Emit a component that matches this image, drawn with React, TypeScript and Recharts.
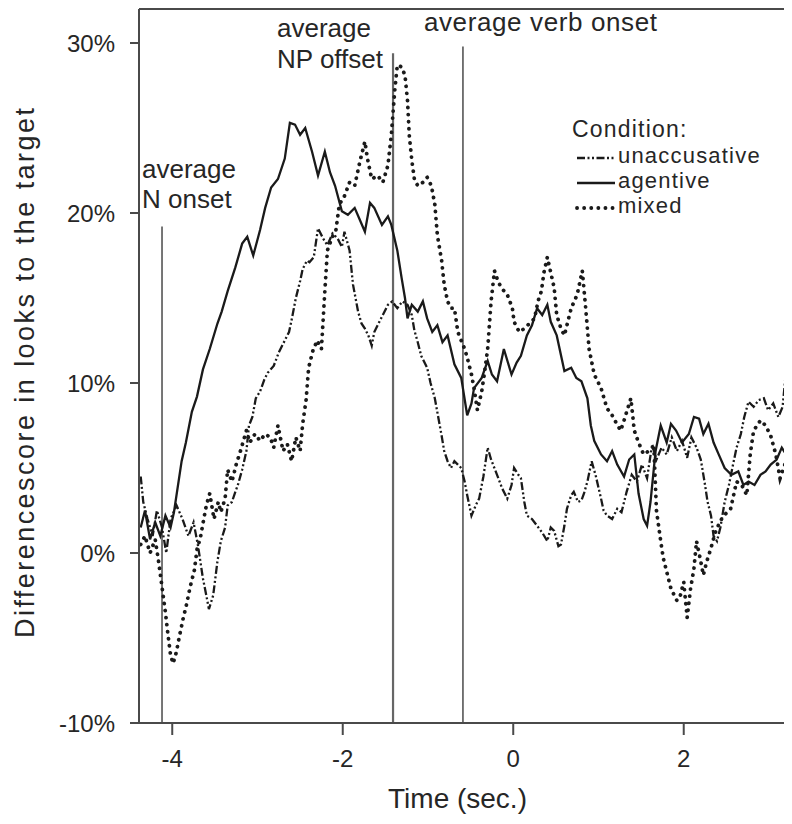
import { LineChart, Line, XAxis, YAxis, ReferenceLine, Legend, Label } from 'recharts';

const agentiveTime = [
  -4.37, -4.32, -4.26, -4.2, -4.14, -4.08, -4.02, -3.98, -3.89, -3.84, -3.77, -3.71, -3.64, -3.56, -3.47, -3.42,
  -3.35, -3.26, -3.18, -3.12, -3.05, -2.97, -2.91, -2.84, -2.76, -2.68, -2.62, -2.56, -2.5, -2.44, -2.36, -2.29,
  -2.21, -2.15, -2.09, -2.01, -1.94, -1.86, -1.8, -1.74, -1.68, -1.63, -1.54, -1.47, -1.43, -1.36, -1.31, -1.27,
  -1.24, -1.19, -1.12, -1.06, -1.01, -0.95, -0.89, -0.83, -0.77, -0.69, -0.61, -0.54, -0.49, -0.46, -0.37, -0.3,
  -0.25, -0.19, -0.11, -0.02, 0.04, 0.09, 0.16, 0.22, 0.28, 0.34, 0.4, 0.44, 0.51, 0.6, 0.68, 0.74, 0.8, 0.87,
  0.91, 0.95, 1.03, 1.1, 1.16, 1.22, 1.3, 1.36, 1.42, 1.47, 1.53, 1.57, 1.61, 1.67, 1.73, 1.8, 1.85, 1.91, 1.98,
  2.06, 2.12, 2.18, 2.23, 2.29, 2.35, 2.41, 2.48, 2.56, 2.64, 2.7, 2.76, 2.83, 2.9, 2.96, 3.02, 3.09, 3.15, 3.2,
];
const agentiveValue = [
  1.5, 2.5, 0.8, 1.8, 1.0, 2.2, 1.5, 2.4, 5.4, 6.5, 8.3, 9.2, 10.8, 12.0, 13.5, 14.2,
  15.4, 16.8, 18.2, 18.6, 17.5, 19.0, 20.3, 21.5, 22.0, 23.2, 25.3, 25.2, 24.6, 25.0, 23.6, 22.2,
  23.6, 22.4, 21.6, 20.1, 19.9, 20.3, 19.6, 18.9, 20.6, 20.3, 19.3, 19.8, 19.3, 17.8, 16.2, 15.0,
  13.8, 14.6, 14.2, 14.8, 13.8, 13.0, 13.4, 12.4, 12.8, 11.1, 10.3, 8.1, 8.8, 9.7, 10.3, 11.3,
  10.5, 10.1, 12.0, 10.5, 11.2, 11.6, 12.8, 13.4, 14.4, 14.0, 14.6, 13.6, 12.8, 10.7, 10.9, 10.3, 10.1, 9.1,
  7.5, 6.6, 5.8, 5.4, 6.0, 5.2, 4.5, 5.5, 5.8, 3.5, 2.0, 1.6, 3.0, 6.0, 7.5, 6.5, 7.6, 7.2, 6.5,
  7.0, 8.0, 7.9, 7.0, 7.6, 6.5, 5.8, 5.0, 4.6, 4.8, 4.0, 4.2, 4.0, 4.6, 4.8, 5.2, 5.5, 6.2, 5.8,
];

const unaccusativeTime = [
  -4.37, -4.34, -4.29, -4.23, -4.18, -4.12, -4.07, -4.02, -3.95, -3.88, -3.81, -3.75, -3.7, -3.64, -3.6, -3.57,
  -3.52, -3.47, -3.43, -3.38, -3.35, -3.3, -3.26, -3.23, -3.18, -3.13, -3.1, -3.06, -3.02, -2.97, -2.92, -2.88,
  -2.81, -2.75, -2.68, -2.63, -2.6, -2.55, -2.5, -2.47, -2.42, -2.39, -2.34, -2.29, -2.23, -2.18, -2.12, -2.06,
  -2.01, -1.98, -1.92, -1.88, -1.82, -1.78, -1.74, -1.7, -1.66, -1.63, -1.59, -1.53, -1.47, -1.42, -1.36, -1.3,
  -1.24, -1.19, -1.16, -1.12, -1.08, -1.01, -0.97, -0.92, -0.88, -0.84, -0.81, -0.77, -0.73, -0.69, -0.65, -0.61,
  -0.57, -0.54, -0.49, -0.44, -0.4, -0.35, -0.3, -0.26, -0.19, -0.13, -0.07, -0.02, 0.01, 0.06, 0.09, 0.13, 0.16,
  0.22, 0.28, 0.34, 0.4, 0.44, 0.48, 0.53, 0.56, 0.6, 0.63, 0.68, 0.71, 0.76, 0.8, 0.83, 0.87, 0.92, 0.97, 1.03,
  1.06, 1.1, 1.16, 1.22, 1.27, 1.33, 1.39, 1.45, 1.51, 1.57, 1.63, 1.68, 1.74, 1.8, 1.86, 1.92, 1.98, 2.04, 2.09,
  2.15, 2.2, 2.25, 2.28, 2.32, 2.35, 2.39, 2.43, 2.48, 2.53, 2.57, 2.62, 2.67, 2.71, 2.76, 2.82, 2.88, 2.94, 2.99,
  3.05, 3.11, 3.16, 3.19, 3.23,
];
const unaccusativeValue = [
  4.5, 3.0, 2.0, 1.0, 2.5, 1.5, 0.0, 2.0, 2.8, 2.0, 1.0, 1.8, 0.5, -1.5, -2.5, -3.3,
  -2.5, -0.5, 0.7, 1.5, 2.8, 3.0, 3.6, 4.0, 4.9, 6.0, 7.5, 8.0, 9.1, 9.5, 10.2, 10.6,
  11.0, 11.8, 12.5, 13.0, 13.7, 15.0, 16.0, 16.7, 17.2, 17.1, 17.4, 19.1, 18.5, 18.1, 18.8, 18.5,
  18.0, 18.9, 17.8, 15.8, 14.2, 13.5, 13.2, 12.8, 12.2, 13.0, 13.4, 14.0, 14.6, 14.8, 14.4, 14.8,
  14.6, 14.0, 13.1, 12.4, 11.6, 10.9, 10.0, 9.1, 8.0, 6.9, 6.0, 5.4, 5.0, 5.4, 5.2, 5.0,
  4.2, 3.4, 2.2, 2.8, 3.2, 4.5, 6.2, 5.5, 4.6, 3.8, 3.2, 4.0, 5.0, 4.6, 4.4, 3.0, 2.2,
  2.0, 1.6, 1.2, 0.7, 1.5, 1.3, 0.4, 0.5, 1.6, 2.6, 3.4, 3.6, 3.0, 3.1, 3.5, 4.2, 5.4, 4.5, 3.2,
  2.5, 2.2, 2.0, 2.6, 2.4, 3.6, 4.6, 4.2, 5.2, 4.4, 6.4, 5.5, 6.2, 5.8, 6.8, 6.0, 6.6, 5.6, 6.8,
  6.2, 5.5, 4.0, 3.0, 2.2, 1.0, 0.7, 1.5, 3.0, 4.0, 5.0, 6.2, 7.0, 8.0, 8.9, 8.6, 9.0, 9.1, 8.4,
  8.8, 8.0, 8.6, 10.2, 9.5,
];

const mixedTime = [
  -4.37, -4.32, -4.26, -4.2, -4.16, -4.12, -4.08, -4.05, -4.02, -3.99, -3.95, -3.92, -3.87, -3.84, -3.79, -3.74,
  -3.71, -3.67, -3.63, -3.6, -3.56, -3.51, -3.46, -3.43, -3.38, -3.35, -3.3, -3.25, -3.2, -3.13, -3.09, -3.03,
  -2.97, -2.91, -2.85, -2.81, -2.76, -2.7, -2.65, -2.6, -2.55, -2.5, -2.47, -2.43, -2.4, -2.35, -2.3, -2.25,
  -2.21, -2.18, -2.13, -2.08, -2.04, -1.98, -1.92, -1.86, -1.8, -1.74, -1.71, -1.66, -1.59, -1.53, -1.47, -1.43,
  -1.39, -1.36, -1.31, -1.27, -1.24, -1.22, -1.19, -1.16, -1.12, -1.06, -1.01, -0.96, -0.92, -0.89, -0.84, -0.81,
  -0.77, -0.73, -0.69, -0.65, -0.61, -0.57, -0.54, -0.49, -0.46, -0.42, -0.37, -0.34, -0.3, -0.26, -0.22, -0.18,
  -0.14, -0.07, -0.01, 0.01, 0.07, 0.13, 0.19, 0.25, 0.29, 0.33, 0.36, 0.4, 0.44, 0.48, 0.51, 0.56, 0.6, 0.64,
  0.68, 0.75, 0.81, 0.85, 0.89, 0.95, 1.03, 1.1, 1.15, 1.18, 1.26, 1.3, 1.38, 1.42, 1.47, 1.53, 1.59, 1.65, 1.68,
  1.73, 1.76, 1.8, 1.85, 1.92, 1.96, 2.0, 2.04, 2.08, 2.12, 2.15, 2.2, 2.23, 2.27, 2.32, 2.37, 2.43, 2.49, 2.55,
  2.62, 2.68, 2.74, 2.78, 2.82, 2.9, 2.96, 3.02, 3.08, 3.13, 3.2,
];
const mixedValue = [
  0.5, 1.0, 0.0, 0.8, -0.5, -2.0, -3.5, -4.8, -6.0, -6.5, -5.8, -5.0, -3.8, -3.2, -2.0, -1.0,
  0.2, 0.9, 2.0, 2.8, 3.5, 2.0, 3.0, 2.4, 3.2, 4.9, 4.2, 5.2, 6.0, 7.2, 6.5, 7.0,
  6.6, 7.0, 6.8, 6.2, 7.5, 6.0, 6.4, 5.4, 6.8, 6.0, 7.6, 9.0, 10.9, 11.9, 12.5, 12.0,
  15.4, 17.8, 18.5, 19.0, 20.5, 21.0, 21.8, 21.6, 23.0, 24.2, 23.2, 22.0, 22.2, 21.8, 22.8, 24.6,
  27.2, 28.7, 28.6, 28.1, 26.6, 24.6, 23.1, 22.0, 21.6, 21.8, 22.1, 21.6, 20.5, 18.7, 17.2, 15.8,
  14.8, 14.4, 14.4, 13.0, 12.5, 12.0, 11.5, 10.5, 9.7, 8.4, 9.5, 10.5, 12.0, 14.8, 16.6, 16.0,
  15.6, 15.2, 14.4, 13.6, 13.0, 13.2, 13.5, 13.8, 14.8, 15.4, 16.5, 17.4, 16.5, 15.6, 14.0, 13.2, 12.8, 13.6,
  14.4, 15.2, 16.6, 14.4, 12.0, 10.5, 9.7, 8.5, 8.2, 7.9, 7.2, 7.8, 9.1, 7.2, 6.5, 5.8, 6.0, 6.2, 2.5,
  0.7, -0.3, -1.1, -2.1, -2.8, -2.5, -1.7, -3.8, -2.1, -0.9, 0.7, -0.5, -1.3, -0.5, 0.3, 1.2, 1.9, 2.3, 2.6,
  4.2, 4.0, 3.4, 5.8, 7.2, 7.8, 7.5, 6.9, 5.8, 4.4, 5.4,
];

const legendTitle = 'Condition:';
const legendNames = ['unaccusative', 'agentive', 'mixed'];
const xTicks = [-4, -2, 0, 2];
const yTicks = [-10, 0, 10, 20, 30];

// time of the three event markers (sec.) and the top of each marker line (%)
const nOnset = -4.12;
const npOffset = -1.41;
const verbOnset = -0.59;
const nOnsetTop = 19.2;
const npOffsetTop = 29.4;
const verbOnsetTop = 29.8;

const FONT = '"Liberation Sans", Arial, Helvetica, sans-serif';
const INK = '#1a1a1a';
const TEXT = '#262626';
const AXIS = '#4a4a4a';

const SERIES_STYLE: Record<string, { dash?: string; width: number; cap: 'butt' | 'round' }> = {
  unaccusative: { dash: '8 2.5 2 2.5 2 2.5', width: 2.3, cap: 'butt' },
  agentive: { width: 2.3, cap: 'butt' },
  mixed: { dash: '0.1 7', width: 3.8, cap: 'round' },
};

const toPoints = (times: number[], values: number[]) => times.map((t, i) => ({ t, v: values[i] }));

const unaccusativeData = toPoints(unaccusativeTime, unaccusativeValue);
const agentiveData = toPoints(agentiveTime, agentiveValue);
const mixedData = toPoints(mixedTime, mixedValue);

const textStyle = { fontFamily: FONT, fontSize: 26, fill: TEXT };
const legendText = { fontFamily: FONT, fontSize: 22, fill: TEXT, letterSpacing: 1.2 };

const renderLegend = () => (
  <svg width={240} height={112} style={{ overflow: 'visible', display: 'block' }}>
    <text x={4} y={24} style={{ ...legendText, fontSize: 23 }}>
      {legendTitle}
    </text>
    {legendNames.map((name, i) => {
      const s = SERIES_STYLE[name];
      return (
        <g key={name}>
          <line
            x1={9}
            x2={47}
            y1={45 + i * 25}
            y2={45 + i * 25}
            stroke={INK}
            strokeWidth={s.width}
            strokeDasharray={s.dash}
            strokeLinecap={s.cap}
          />
          <text x={50} y={50 + i * 25} style={legendText}>
            {name}
          </text>
        </g>
      );
    })}
  </svg>
);

const nOnsetLabel = (props: any) => {
  const { x, y } = props.viewBox;
  return (
    <g>
      <text x={x - 20} y={y - 49} style={textStyle}>average</text>
      <text x={x - 20} y={y - 19} style={textStyle}>N onset</text>
    </g>
  );
};

const npOffsetLabel = (props: any) => {
  const { x, y } = props.viewBox;
  return (
    <g>
      <text x={x - 116} y={y - 16} style={textStyle}>average</text>
      <text x={x - 116} y={y + 15} style={textStyle}>NP offset</text>
    </g>
  );
};

const verbOnsetLabel = (props: any) => {
  const { x, y } = props.viewBox;
  return (
    <text x={x - 39} y={y - 15} style={textStyle} textLength={233} lengthAdjust="spacing">
      average verb onset
    </text>
  );
};

const yTitle = (props: any) => {
  const { y, height } = props.viewBox;
  const cx = 26;
  const cy = y + height / 2 + 7;
  return (
    <text
      x={cx}
      y={cy}
      textAnchor="middle"
      transform={`rotate(-90 ${cx} ${cy})`}
      style={{ ...textStyle, fontSize: 27 }}
      textLength={530}
      lengthAdjust="spacing"
    >
      Differencescore in looks to the target
    </text>
  );
};

const xTitle = (props: any) => {
  const { x, y, width } = props.viewBox;
  return (
    <text x={x + width / 2 - 8} y={y + 85} textAnchor="middle" style={{ ...textStyle, fontSize: 28 }}>
      Time (sec.)
    </text>
  );
};

const markerLine = (t: number, top: number) => [
  { x: t, y: -10 },
  { x: t, y: top },
];

export default function App() {
  return (
    <div style={{ width: 784, height: 816, background: '#fff' }}>
      <LineChart width={784} height={816} margin={{ top: 1, right: 0, bottom: 9, left: 31 }}>
        <XAxis
          type="number"
          dataKey="t"
          domain={[-4.39, 3.27]}
          allowDataOverflow
          ticks={xTicks}
          tickSize={12}
          tickMargin={15}
          height={92}
          stroke={AXIS}
          strokeWidth={2}
          tick={{ fontFamily: FONT, fontSize: 24, fill: TEXT }}
          tickLine={{ stroke: AXIS, strokeWidth: 2 }}
        >
          <Label content={xTitle} />
        </XAxis>
        <YAxis
          type="number"
          dataKey="v"
          domain={[-10, 32]}
          allowDataOverflow
          ticks={yTicks}
          tickFormatter={(v: number) => `${v}%`}
          tickSize={9}
          tickMargin={15}
          width={100}
          stroke={AXIS}
          strokeWidth={2}
          tick={{ fontFamily: FONT, fontSize: 24, fill: TEXT }}
          tickLine={{ stroke: AXIS, strokeWidth: 2 }}
        >
          <Label content={yTitle} />
        </YAxis>
        <ReferenceLine y={32} stroke={AXIS} strokeWidth={2} />
        <ReferenceLine segment={markerLine(nOnset, nOnsetTop)} stroke="#555" strokeWidth={1.6} label={nOnsetLabel} />
        <ReferenceLine segment={markerLine(npOffset, npOffsetTop)} stroke="#666" strokeWidth={2.2} label={npOffsetLabel} />
        <ReferenceLine segment={markerLine(verbOnset, verbOnsetTop)} stroke="#555" strokeWidth={1.6} label={verbOnsetLabel} />
        <Line
          data={unaccusativeData}
          dataKey="v"
          name="unaccusative"
          type="linear"
          stroke={INK}
          strokeWidth={SERIES_STYLE.unaccusative.width}
          strokeDasharray={SERIES_STYLE.unaccusative.dash}
          dot={false}
          activeDot={false}
          isAnimationActive={false}
        />
        <Line
          data={agentiveData}
          dataKey="v"
          name="agentive"
          type="linear"
          stroke={INK}
          strokeWidth={SERIES_STYLE.agentive.width}
          dot={false}
          activeDot={false}
          isAnimationActive={false}
        />
        <Line
          data={mixedData}
          dataKey="v"
          name="mixed"
          type="linear"
          stroke={INK}
          strokeWidth={SERIES_STYLE.mixed.width}
          strokeDasharray={SERIES_STYLE.mixed.dash}
          strokeLinecap="round"
          dot={false}
          activeDot={false}
          isAnimationActive={false}
        />
        <Legend
          layout="horizontal"
          verticalAlign="middle"
          align="center"
          content={renderLegend}
          wrapperStyle={{ left: 560, top: 105, width: 240, height: 112 }}
        />
      </LineChart>
    </div>
  );
}
